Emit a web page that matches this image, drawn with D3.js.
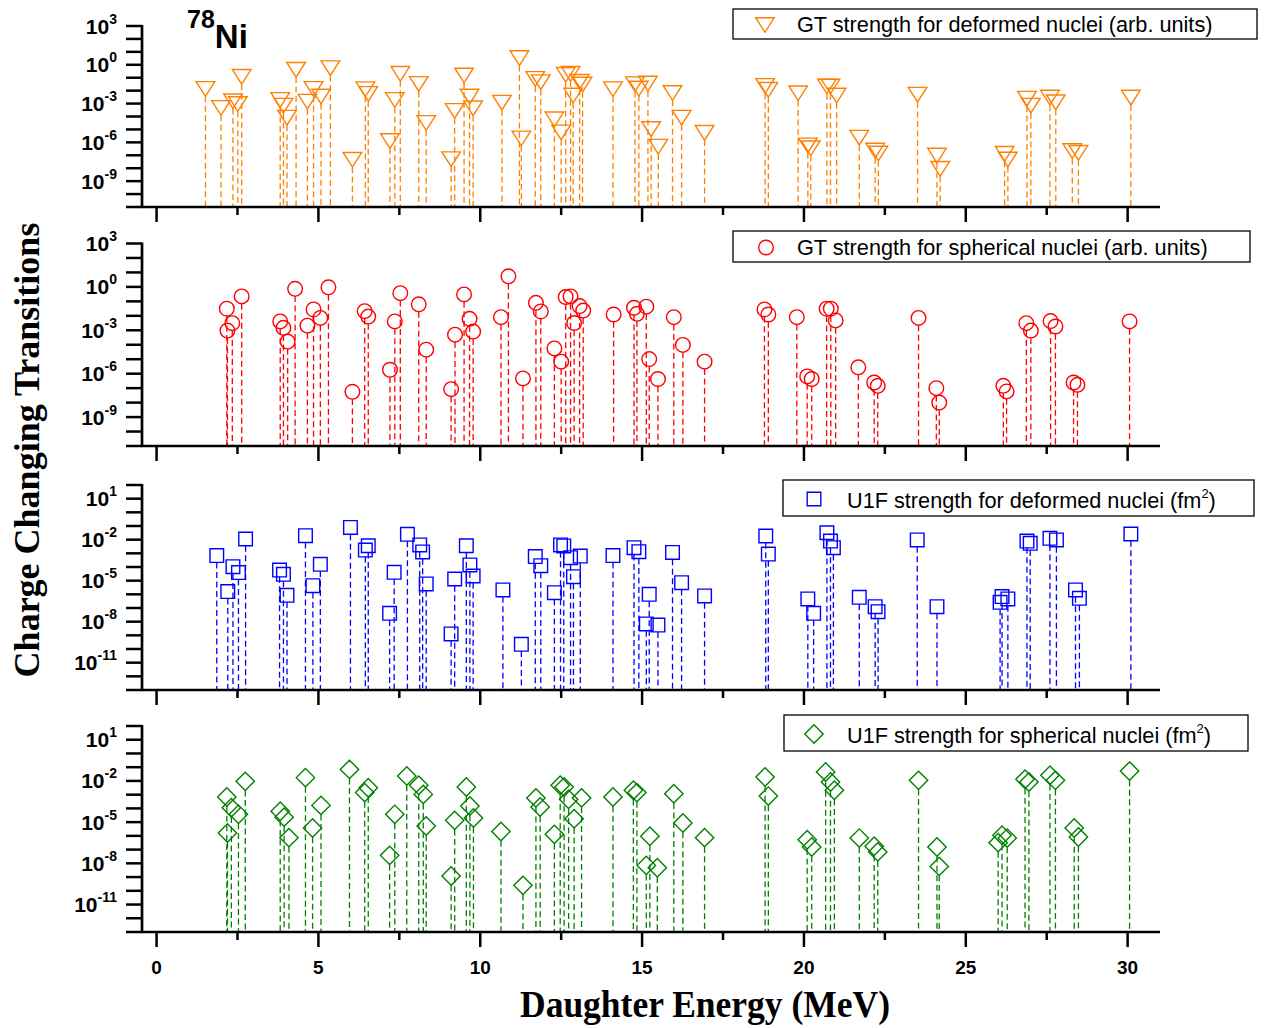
<!DOCTYPE html>
<html><head><meta charset="utf-8">
<script src="https://cdn.jsdelivr.net/npm/d3@7"></script>
<style>body{margin:0;background:#fff}svg{display:block}</style>
</head><body>
<svg id="c" width="1266" height="1028"></svg>
<script>
// ---- data ----
const gtDefE = [1.51,1.99,2.36,2.51,2.63,3.82,3.92,4.03,4.31,4.66,4.85,5.08,5.37,6.05,6.45,6.54,7.21,7.36,7.53,8.10,8.33,9.10,9.21,9.50,9.67,9.78,10.67,11.21,11.27,11.70,11.87,12.29,12.50,12.64,12.79,12.87,13.07,13.16,14.10,14.78,14.90,15.18,15.28,15.50,15.94,16.22,16.93,18.80,18.90,19.82,20.12,20.21,20.71,20.82,21.01,21.71,22.20,22.30,23.51,24.11,24.21,26.20,26.30,26.89,27.01,27.60,27.78,28.29,28.48,30.10];
const gtDefS = [1.35e-2,4.57e-4,1.51e-3,9.3e-4,1.17e-1,1.9e-3,6.9e-4,8.1e-5,4.1e-1,1.41e-3,1.35e-2,3.5e-3,5.5e-1,4.5e-8,1.29e-2,5.6e-3,1.26e-6,1.9e-3,2.0e-1,3.3e-2,3.16e-5,5.0e-8,2.7e-4,1.48e-1,3.5e-3,4.3e-4,1.17e-3,3.3,2.0e-6,8.1e-2,4.5e-2,6.0e-5,5.9e-6,1.66e-1,2.0e-1,4.2e-3,4.8e-2,2.95e-2,1.29e-2,3.16e-2,1.45e-2,3.5e-2,1.07e-5,4.6e-7,6.6e-3,8.1e-5,5.5e-6,2.3e-2,1.15e-2,6.3e-3,5.8e-7,3.5e-7,2.1e-2,2.1e-2,4.2e-3,2.3e-6,2.3e-7,1.38e-7,4.9e-3,9.5e-8,8.9e-9,1.29e-7,4.7e-8,2.4e-3,6.9e-4,2.9e-3,1.26e-3,2.1e-7,1.55e-7,2.9e-3];

const gtSphE = [2.17,2.19,2.34,2.63,3.82,3.92,4.05,4.28,4.66,4.85,5.06,5.31,6.05,6.43,6.54,7.21,7.36,7.53,8.10,8.33,9.10,9.22,9.50,9.67,9.78,10.64,10.87,11.32,11.72,11.87,12.29,12.50,12.64,12.79,12.90,13.07,13.18,14.12,14.75,14.84,15.13,15.22,15.49,15.98,16.26,16.93,18.78,18.90,19.78,20.10,20.24,20.70,20.83,20.98,21.68,22.17,22.28,23.54,24.09,24.18,26.16,26.26,26.87,27.01,27.62,27.77,28.33,28.45,30.06];
const gtSphS = [3.1e-2,9.5e-4,3.1e-3,2.2e-1,4.1e-3,1.48e-3,1.66e-4,7.4e-1,2.1e-3,2.75e-2,7.2e-3,9.3e-1,5.6e-8,2.1e-2,8.9e-3,1.86e-6,4.1e-3,3.7e-1,6.2e-2,4.6e-5,8.5e-8,5.0e-4,3.0e-1,6.2e-3,8.1e-4,8.1e-3,5.4,4.7e-7,7.9e-2,2.0e-2,5.6e-5,6.8e-6,2.0e-1,2.2e-1,3.2e-3,4.7e-2,2.3e-2,1.23e-2,3.6e-2,1.38e-2,4.3e-2,1.02e-5,4.3e-7,8.1e-3,9.8e-5,6.8e-6,2.75e-2,1.23e-2,8.1e-3,6.5e-7,4.3e-7,3.1e-2,3.1e-2,4.8e-3,2.75e-6,2.45e-7,1.45e-7,7.2e-3,1.0e-7,1.0e-8,1.45e-7,5.9e-8,3.1e-3,9.5e-4,4.3e-3,1.82e-3,2.45e-7,1.7e-7,4.1e-3];

const u1fDefE = [1.86,2.20,2.36,2.53,2.75,3.80,3.92,4.03,4.60,4.83,5.06,5.99,6.45,6.54,7.20,7.34,7.75,8.13,8.22,8.33,9.10,9.21,9.57,9.68,9.78,10.70,11.27,11.70,11.87,12.29,12.48,12.58,12.79,12.88,13.09,14.10,14.75,14.90,15.22,15.13,15.49,15.94,16.22,16.93,18.82,18.90,20.12,20.30,20.71,20.82,20.91,21.71,22.20,22.29,23.50,24.11,26.06,26.12,26.30,26.89,26.99,27.60,27.80,28.39,28.51,30.10];
const u1fDefS = [6.8e-4,1.58e-6,1.05e-4,3.9e-5,1.12e-2,6.0e-5,2.9e-5,8.5e-7,1.95e-2,4.3e-6,1.58e-4,7.9e-2,1.74e-3,3.6e-3,4.1e-8,4.1e-5,2.45e-2,4.1e-3,1.26e-3,5.8e-6,1.26e-9,1.32e-5,3.6e-3,1.41e-4,2.2e-5,2.1e-6,2.2e-10,5.8e-4,1.26e-4,1.32e-6,4.1e-3,3.5e-3,4.8e-4,1.95e-5,6.3e-4,6.8e-4,2.6e-3,1.32e-3,1.0e-6,6.8e-9,5.6e-9,1.17e-3,7.1e-6,7.6e-7,1.86e-2,8.9e-4,4.6e-7,4.1e-8,3.2e-2,7.9e-3,2.6e-3,6.0e-7,1.26e-7,5.4e-8,9.5e-3,1.26e-7,2.6e-7,6.8e-7,4.6e-7,7.9e-3,5.4e-3,1.26e-2,9.5e-3,2.1e-6,5.1e-7,2.6e-2];

const u1fSphE = [2.17,2.19,2.31,2.53,2.74,3.82,3.94,4.09,4.60,4.82,5.08,5.96,6.43,6.54,7.20,7.36,7.73,8.10,8.24,8.33,9.10,9.21,9.57,9.68,9.79,10.64,11.32,11.72,11.85,12.29,12.47,12.59,12.73,12.90,13.13,14.10,14.73,14.84,15.24,15.13,15.47,15.98,16.26,16.93,18.80,18.90,20.10,20.24,20.67,20.82,20.94,21.71,22.17,22.28,23.54,24.11,24.18,26.00,26.12,26.28,26.83,26.95,27.60,27.77,28.35,28.48,30.06];
const u1fSphS = [6.8e-4,1.62e-6,1.12e-4,3.7e-5,9.3e-3,6.2e-5,2.3e-5,7.4e-7,1.74e-2,3.7e-6,1.66e-4,6.9e-2,1.41e-3,3.2e-3,3.8e-8,3.7e-5,2.3e-2,4.8e-3,1.05e-3,5.2e-6,1.2e-9,1.35e-5,3.6e-3,1.48e-4,2.0e-5,2.1e-6,2.5e-10,5.8e-4,1.26e-4,1.29e-6,4.8e-3,3.6e-3,4.6e-4,1.78e-5,5.8e-4,6.8e-4,2.1e-3,1.41e-3,9.3e-7,7.1e-9,4.8e-9,1.17e-3,8.7e-6,7.4e-7,1.95e-2,7.9e-4,5.2e-7,1.55e-7,4.5e-2,8.3e-3,2.1e-3,6.9e-7,1.74e-7,6.8e-8,1.1e-2,1.55e-7,6.0e-9,3.2e-7,1.1e-6,6.9e-7,1.32e-2,8.3e-3,2.6e-2,1.1e-2,3.7e-6,8.3e-7,5.2e-2];

const xTicks = [0,2.5,5,7.5,10,12.5,15,17.5,20,22.5,25,27.5,30];
const xTickLabels = [0,5,10,15,20,25,30];
const yLabelExpA = [3,0,-3,-6,-9];
const yLabelExpB = [1,-2,-5,-8,-11];
const legendTexts = [
  ["GT strength for deformed nuclei (arb. units)", null],
  ["GT strength for spherical nuclei (arb. units)", null],
  ["U1F strength for deformed nuclei (fm", "2"],
  ["U1F strength for spherical nuclei (fm", "2"]
];

// ---- layout ----
const svg = d3.select("#c");
const sans = "'Liberation Sans', Arial, sans-serif";
const serif = "'Liberation Serif', 'Times New Roman', serif";
const x = d3.scaleLinear().domain([-0.45, 31]).range([142, 1160]);

const panels = [
  {E: gtDefE, S: gtDefS, dom: [1e-11, 1e3], rng: [207, 26], color: "#FF8000", sym: "tri", labs: yLabelExpA,
   leg: {x: 733, y: 9, w: 524, h: 30, sx: 765, tx: 797, ty: 32, t: legendTexts[0]}},
  {E: gtSphE, S: gtSphS, dom: [1e-11, 1e3], rng: [446, 243.5], color: "#FF0000", sym: "circ", labs: yLabelExpA,
   leg: {x: 733, y: 231, w: 517, h: 31, sx: 766, tx: 797, ty: 255, t: legendTexts[1]}},
  {E: u1fDefE, S: u1fDefS, dom: [1e-13, 1e2], rng: [690, 485], color: "#0000FF", sym: "sq", labs: yLabelExpB,
   leg: {x: 783, y: 480, w: 471, h: 36, sx: 814, tx: 847, ty: 508, t: legendTexts[2]}},
  {E: u1fSphE, S: u1fSphS, dom: [1e-13, 1e2], rng: [932, 726], color: "#008000", sym: "dia", labs: yLabelExpB,
   leg: {x: 784, y: 715, w: 464, h: 36, sx: 814, tx: 847, ty: 743, t: legendTexts[3]}}
];

function symbolPath(sym) {
  if (sym === "tri") return "M-9.3,-7.3L9.3,-7.3L0,7.3Z";
  if (sym === "circ") return d3.arc()({innerRadius: 0, outerRadius: 7.3, startAngle: 0, endAngle: 2 * Math.PI});
  if (sym === "sq") return "M-6.8,-6.8H6.8V6.8H-6.8Z";
  return "M0,-9.2L9.2,0L0,9.2L-9.2,0Z";
}
function halfH(sym) { return sym === "tri" ? 7.3 : sym === "circ" ? 7.3 : sym === "sq" ? 6.8 : 9.2; }

panels.forEach((p, pi) => {
  const y = d3.scaleLog().domain(p.dom).range(p.rng);
  const g = svg.append("g");
  const bottom = p.rng[0], top = p.rng[1];
  const data = p.E.map((e, i) => ({e, s: p.S[i]}));
  const hh = halfH(p.sym);
  // drop lines
  g.selectAll("line.drop").data(data).enter().append("line")
    .attr("x1", d => x(d.e)).attr("x2", d => x(d.e))
    .attr("y1", d => y(d.s) + hh).attr("y2", bottom)
    .attr("stroke", p.color).attr("stroke-width", 1.3).attr("stroke-dasharray", "6,3.5");
  // markers
  const path = symbolPath(p.sym);
  g.selectAll("path.m").data(data).enter().append("path")
    .attr("d", path).attr("transform", d => `translate(${x(d.e)},${y(d.s)})`)
    .attr("fill", "none").attr("stroke", p.color).attr("stroke-width", 1.4);

  // y axis line + ticks
  const lo = Math.round(Math.log10(p.dom[0])), hi = Math.round(Math.log10(p.dom[1]));
  const decs = d3.range(lo, hi + 1);
  g.append("line").attr("x1", 142).attr("x2", 142).attr("y1", top - 1).attr("y2", bottom + 1)
    .attr("stroke", "#000").attr("stroke-width", 2.7);
  g.selectAll("line.yt").data(decs).enter().append("line")
    .attr("x1", 126).attr("x2", 142).attr("y1", d => y(Math.pow(10, d))).attr("y2", d => y(Math.pow(10, d)))
    .attr("stroke", "#000").attr("stroke-width", 2.5);
  const lt = g.selectAll("text.yl").data(p.labs).enter().append("text")
    .attr("x", 117).attr("y", d => y(Math.pow(10, d)) + 7.5)
    .attr("text-anchor", "end").attr("font-family", sans).attr("font-weight", "bold").attr("font-size", 21);
  lt.append("tspan").text("10");
  lt.append("tspan").attr("font-size", 14).attr("dy", -10).text(d => String(d));

  // x axis line + ticks
  g.append("line").attr("x1", 141).attr("x2", 1160).attr("y1", bottom).attr("y2", bottom)
    .attr("stroke", "#000").attr("stroke-width", 2.7);
  g.selectAll("line.xt").data(xTicks).enter().append("line")
    .attr("x1", d => x(d)).attr("x2", d => x(d)).attr("y1", bottom)
    .attr("y2", d => bottom + (d % 5 === 0 ? 15 : 8))
    .attr("stroke", "#000").attr("stroke-width", 2.5);
  if (pi === 3) {
    g.selectAll("text.xl").data(xTickLabels).enter().append("text")
      .attr("x", d => x(d)).attr("y", bottom + 42).attr("text-anchor", "middle")
      .attr("font-family", sans).attr("font-weight", "bold").attr("font-size", 19).text(d => d);
  }

  // legend
  const L = p.leg;
  g.append("rect").attr("x", L.x).attr("y", L.y).attr("width", L.w).attr("height", L.h)
    .attr("fill", "#fff").attr("stroke", "#000").attr("stroke-width", 1.3);
  g.append("path").attr("d", path).attr("transform", `translate(${L.sx},${L.y + L.h / 2 + 1})`)
    .attr("fill", "none").attr("stroke", p.color).attr("stroke-width", 1.4);
  const tt = g.append("text").attr("x", L.tx).attr("y", L.ty).attr("font-family", sans).attr("font-size", 21.7).attr("fill", "#000");
  tt.append("tspan").text(L.t[0]);
  if (L.t[1]) {
    tt.append("tspan").attr("font-size", 13).attr("dy", -10).text(L.t[1]);
    tt.append("tspan").attr("dy", 10).text(")");
  }
});

// 78Ni label
const ni = svg.append("text").attr("x", 187).attr("y", 48).attr("font-family", sans).attr("font-weight", "bold");
ni.append("tspan").attr("font-size", 25).attr("dy", -20).text("78");
ni.append("tspan").attr("font-size", 33).attr("dy", 20).text("Ni");

// axis titles
svg.append("text").attr("x", 705).attr("y", 1017).attr("text-anchor", "middle")
  .attr("font-family", serif).attr("font-weight", "bold").attr("font-size", 38)
  .attr("textLength", 370).attr("lengthAdjust", "spacingAndGlyphs").text("Daughter Energy (MeV)");
svg.append("text").attr("transform", "translate(39,450) rotate(-90)").attr("text-anchor", "middle")
  .attr("font-family", serif).attr("font-weight", "bold").attr("font-size", 36)
  .text("Charge Changing Transitions");
</script>
</body></html>
